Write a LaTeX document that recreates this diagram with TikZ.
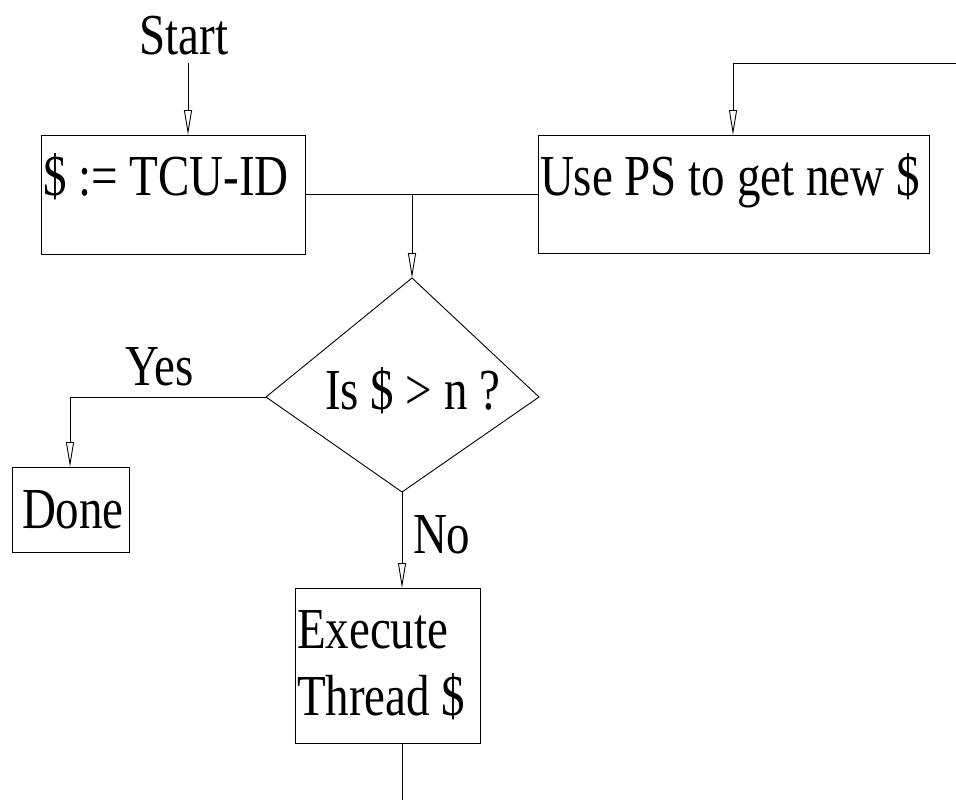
\documentclass[tikz,border=0pt]{standalone}
\usepackage{fontspec}
\setmainfont{Liberation Serif}[FakeStretch=0.81]
\usetikzlibrary{arrows.meta}
\begin{document}
\begin{tikzpicture}[x=1pt,y=-1pt,
  line width=0.9pt,
  every node/.style={inner sep=0pt,outer sep=0pt,font=\fontsize{58pt}{67pt}\selectfont},
  boxnode/.style={draw,rectangle,anchor=north west},
  lbl/.style={anchor=base west,align=left},
  arr/.style={-{Triangle[open,length=25pt,width=8pt]}}]
\useasboundingbox (0,0) rectangle (956,800);
% boxes
\node[boxnode,minimum width=264pt,minimum height=119pt] (b1) at (41,135) {};
\node[boxnode,minimum width=391pt,minimum height=118pt] (b2) at (538,135) {};
\node[boxnode,minimum width=117pt,minimum height=85pt] (done) at (12,467) {};
\node[boxnode,minimum width=185pt,minimum height=155pt] (exec) at (295,588) {};
% texts
\node[anchor=base] (start) at (184,55) {Start};
\node[lbl] (t1) at (43,195) {\$ := TCU-ID};
\node[lbl] (t2) at (540,195) {Use PS to get new \$};
\node[lbl] (tq) at (325,409) {Is \$ > n ?};
\node[lbl] (tyes) at (125,385) {Yes};
\node[lbl] (tno) at (413,553) {No};
\node[lbl] (tdone) at (22,528) {Done};
\node[lbl] (texec) at (297,648) {Execute};
\node[lbl] (tthread) at (297,715) {Thread \$};
% diamond
\coordinate (dt) at (412,278);
\coordinate (dl) at (266,397);
\coordinate (dr) at (539,397);
\coordinate (db) at (402,492);
\draw (dt) -- (dr) -- (db) -- (dl) -- cycle;
% connectors
\coordinate (s0) at (188,63);
\draw[arr] (s0) -- (s0 |- b1.north);
\draw (b1.east) -- (b1.east -| b2.west);
\coordinate (j) at (412,194.5);
\draw[arr] (j) -- (dt);
\coordinate (loopin) at (956,63);
\coordinate (loopc) at (733,63);
\draw[arr] (loopin) -- (loopc) -- (loopc |- b2.north);
\coordinate (yc) at (70,397);
\draw[arr] (dl) -- (yc) -- (yc |- done.north);
\draw[arr] (db) -- (db |- exec.north);
\coordinate (eout) at (402,800);
\draw (exec.south -| eout) -- (eout);
\end{tikzpicture}
\end{document}
